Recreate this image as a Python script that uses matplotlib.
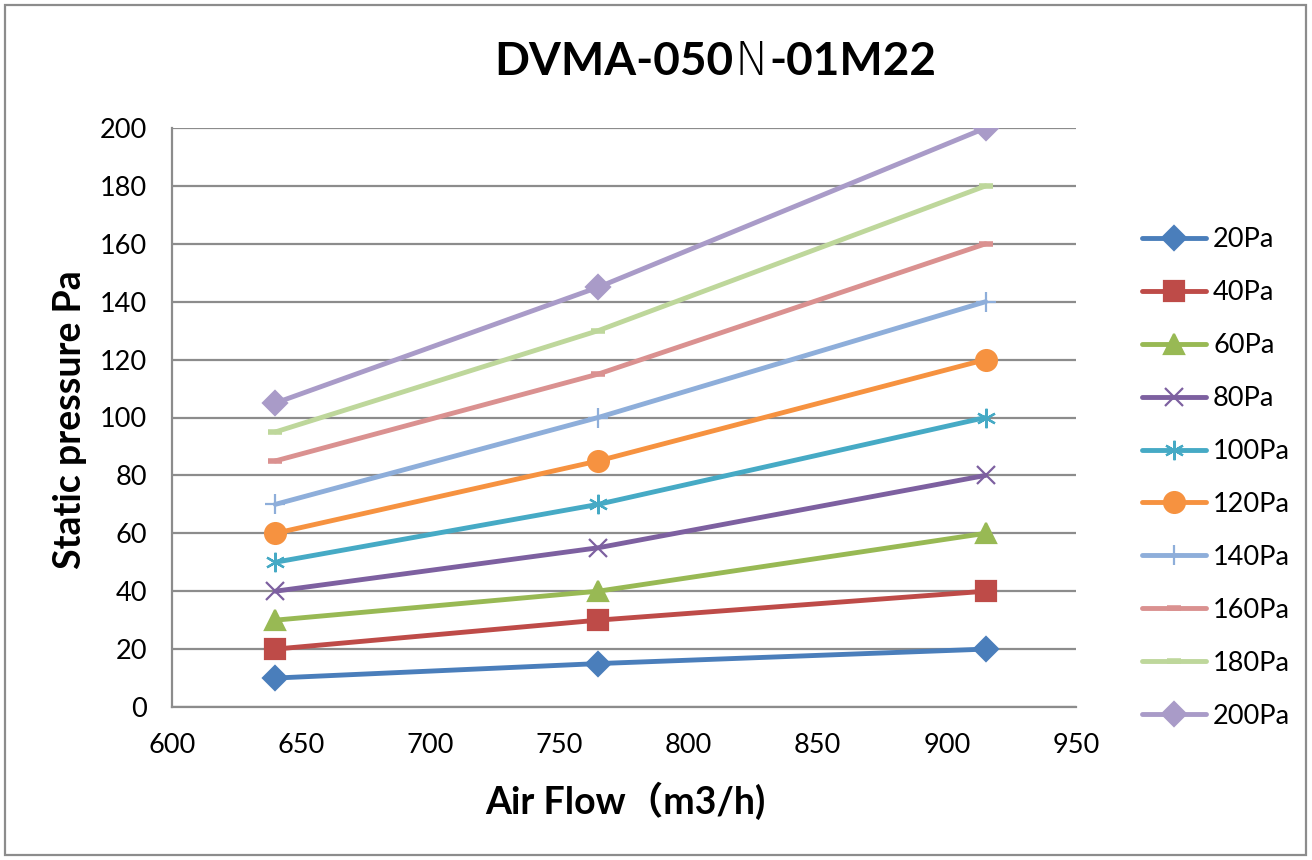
import matplotlib.pyplot as plt
from matplotlib.patches import Rectangle

# Daten
air_flow = [640, 765, 915]
labels = ['20Pa', '40Pa', '60Pa', '80Pa', '100Pa', '120Pa', '140Pa', '160Pa', '180Pa', '200Pa']
p20 = [10, 15, 20]
p40 = [20, 30, 40]
p60 = [30, 40, 60]
p80 = [40, 55, 80]
p100 = [50, 70, 100]
p120 = [60, 85, 120]
p140 = [70, 100, 140]
p160 = [85, 115, 160]
p180 = [95, 130, 180]
p200 = [105, 145, 200]
series = [p20, p40, p60, p80, p100, p120, p140, p160, p180, p200]

colors = ['#4A7EBB', '#BE4B48', '#98B954', '#7D60A0', '#46AAC5',
          '#F69240', '#8EAEDA', '#DA9190', '#BED79B', '#A99BC8']
markers = ['D', 's', '^', 'x', (6, 2, 0), 'o', '+', '_', '_', 'D']
msizes = [12, 14, 15, 13, 14, 15, 14, 10, 10, 12]

plt.rcParams['font.family'] = ['Lato', 'Noto Sans CJK SC', 'DejaVu Sans']

fig = plt.figure(figsize=(13.12, 8.6), dpi=100)
ax = fig.add_axes([172 / 1312, 1 - 707 / 860, (1076 - 172) / 1312, (707 - 128) / 860])

for y, lab, c, m, ms in zip(series, labels, colors, markers, msizes):
    ax.plot(air_flow, y, color=c, lw=3.5, marker=m, markersize=ms,
            markerfacecolor=c, markeredgecolor=c,
            markeredgewidth=4 if m == '_' else 1.6, label=lab,
            solid_capstyle='round', zorder=3)

ax.set_xlim(600, 950)
ax.set_ylim(0, 200)
ax.set_xticks(range(600, 951, 50))
ax.set_yticks(range(0, 201, 20))
ax.tick_params(length=0, labelsize=19.5)
ax.tick_params(axis='y', pad=18)
ax.tick_params(axis='x', pad=19)
ax.grid(axis='y', color='#8C8C8C', lw=1.6)
ax.set_axisbelow(True)
for s in ['top', 'right']:
    ax.spines[s].set_visible(False)
for s in ['left', 'bottom']:
    ax.spines[s].set_color('#8C8C8C')
    ax.spines[s].set_linewidth(1.6)

fig.text(70 / 1312, 1 - 420 / 860, 'Static pressure Pa', fontsize=27, fontweight='bold',
         rotation=90, ha='center', va='center')
fig.text(625 / 1312, 1 - 801 / 860, 'Air Flow（m3/h)', fontsize=27, fontweight='bold',
         ha='center', va='center')

# Titel: das N ist dünner gesetzt
ty = 1 - 62 / 860
renderer = fig.canvas.get_renderer()
t1 = fig.text(494 / 1312, ty, 'DVMA-050', fontsize=33, fontweight='bold', va='center')
w1 = t1.get_window_extent(renderer).width
t2 = fig.text((494 + w1 + 1) / 1312, ty, 'N', fontsize=33, fontweight='light',
              family='DejaVu Sans', va='center')
w2 = t2.get_window_extent(renderer).width
fig.text((494 + w1 + w2 + 2) / 1312, ty, '-01M22', fontsize=33, fontweight='bold', va='center')

ax.legend(loc='center left', bbox_to_anchor=(1118 / 1312, 1 - 478 / 860),
          bbox_transform=fig.transFigure, frameon=False, fontsize=19.5,
          handlelength=2.35, handletextpad=0.26, labelspacing=1.03)

fig.patches.append(Rectangle((5 / 1312, 5 / 860), 1301 / 1312, 850 / 860,
                             transform=fig.transFigure, fill=False,
                             edgecolor='#8C8C8C', lw=1.6))

fig.savefig('out.png', dpi=100)
